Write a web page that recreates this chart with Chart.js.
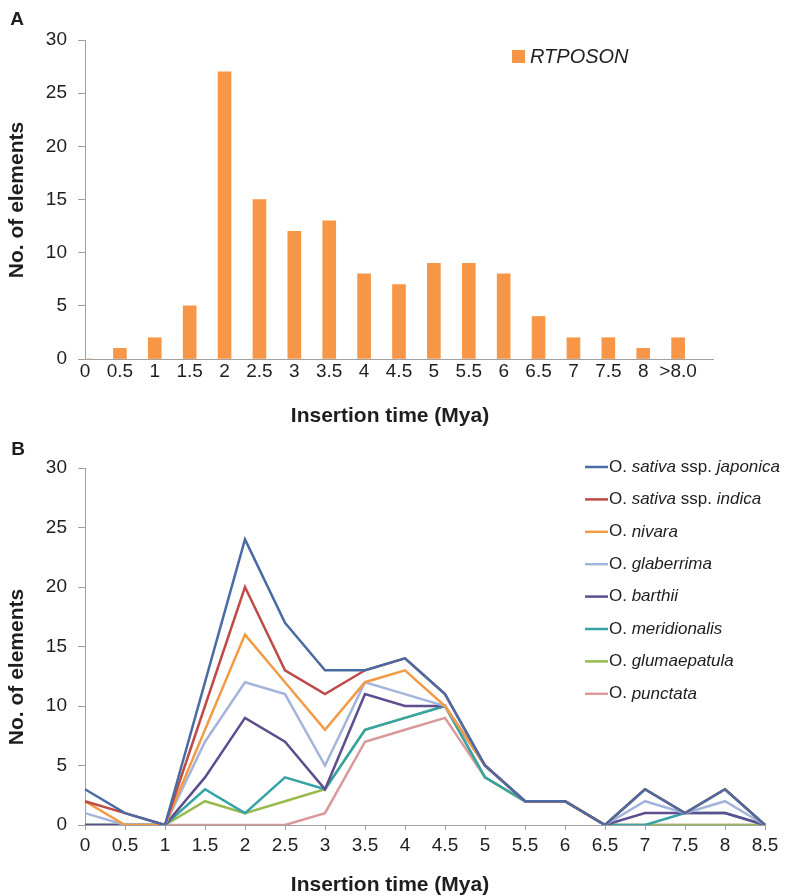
<!DOCTYPE html>
<html>
<head>
<meta charset="utf-8">
<title>RTPOSON insertion time</title>
<script src="https://cdn.jsdelivr.net/npm/chart.js@4.4.0/dist/chart.umd.min.js"></script>
<style>
  body { margin: 0; background: #fff; }
  #wrap { position: relative; width: 787px; height: 896px; }
  canvas { position: absolute; left: 0; }
  #chartA { top: 0; }
  #chartB { top: 432px; }
</style>
</head>
<body>
<div id="wrap">
  <canvas id="chartA" width="787" height="432"></canvas>
  <canvas id="chartB" width="787" height="464"></canvas>
</div>
<script>
// panel A: histogram of insertion times
const binLabels = ['0', '0.5', '1', '1.5', '2', '2.5', '3', '3.5', '4', '4.5', '5', '5.5', '6', '6.5', '7', '7.5', '8', '>8.0'];
const rtposonCounts = [0, 1, 2, 5, 27, 15, 12, 13, 8, 7, 9, 9, 8, 4, 2, 2, 1, 2];

// panel B: per species
const timeLabels = ['0', '0.5', '1', '1.5', '2', '2.5', '3', '3.5', '4', '4.5', '5', '5.5', '6', '6.5', '7', '7.5', '8', '8.5'];
const speciesNames = ['O. sativa ssp. japonica', 'O. sativa ssp. indica', 'O. nivara', 'O. glaberrima',
  'O. barthii', 'O. meridionalis', 'O. glumaepatula', 'O. punctata'];
const japonica     = [3, 1, 0, 12, 24, 17, 13, 13, 14, 11, 5, 2, 2, 0, 3, 1, 3, 0];
const indica       = [2, 1, 0, 10, 20, 13, 11, 13, 14, 11, 5, 2, 2, 0, 3, 1, 3, 0];
const nivara       = [2, 0, 0, 8, 16, 12, 8, 12, 13, 10, 5, 2, 2, 0, 3, 1, 3, 0];
const glaberrima   = [1, 0, 0, 7, 12, 11, 5, 12, 11, 10, 5, 2, 2, 0, 2, 1, 2, 0];
const barthii      = [0, 0, 0, 4, 9, 7, 3, 11, 10, 10, 5, 2, 2, 0, 1, 1, 1, 0];
const meridionalis = [0, 0, 0, 3, 1, 4, 3, 8, 9, 10, 4, 2, 2, 0, 0, 1, 1, 0];
const glumaepatula = [0, 0, 0, 2, 1, 2, 3, 8, 9, 10, 4, 2, 2, 0, 0, 0, 0, 0];
const punctata     = [0, 0, 0, 0, 0, 0, 1, 7, 8, 9, 4, 2, 2, 0, 0, 0, 0, 0];
const speciesData = [japonica, indica, nivara, glaberrima, barthii, meridionalis, glumaepatula, punctata];
const speciesColors = ['#4a6ca4', '#be4b48', '#f39a44', '#a3b5da', '#5e4e8e', '#36a3a6', '#98ba4f', '#d9999a'];

const FAMILY = '"Liberation Sans", Arial, sans-serif';
const AXIS_GRAY = '#a0a0a0';
const TEXT = '#1e1e1e';

// free text (panel letters, axis titles)
function textPlugin(items) {
    return {
        id: 'panelText',
        afterDraw(chart) {
            const ctx = chart.ctx;
            items.forEach(t => {
                ctx.save();
                ctx.font = t.font;
                ctx.fillStyle = TEXT;
                ctx.textAlign = 'center';
                ctx.textBaseline = 'middle';
                ctx.translate(t.x, t.y);
                if (t.rotate) ctx.rotate(t.rotate);
                ctx.fillText(t.text, 0, 0);
                ctx.restore();
            });
        }
    };
}

function yAxis() {
    return {
        min: 0,
        max: 30,
        ticks: { stepSize: 5, padding: 11, color: TEXT, font: { size: 19, family: FAMILY } },
        grid: { drawOnChartArea: false, tickLength: 7, color: AXIS_GRAY },
        border: { color: AXIS_GRAY },
        afterFit: s => { s.width = 85; }
    };
}

// ---- panel A ----
new Chart(document.getElementById('chartA').getContext('2d'), {
    type: 'bar',
    data: {
        datasets: [{
            label: 'RTPOSON',
            data: rtposonCounts.map((v, i) => ({ x: i * 0.5, y: v })),
            backgroundColor: '#f79646',
            barThickness: 13
        }]
    },
    options: {
        responsive: false,
        animation: false,
        devicePixelRatio: 1,
        layout: { padding: { top: 40, right: 74, left: 0, bottom: 0 } },
        plugins: { legend: { display: false }, tooltip: { enabled: false } },
        scales: {
            x: {
                type: 'linear',
                offset: false,
                min: 0,
                max: 9,
                ticks: {
                    stepSize: 0.5,
                    autoSkip: false,
                    maxRotation: 0,
                    padding: 1,
                    color: TEXT,
                    font: { size: 19, family: FAMILY },
                    callback: v => binLabels[Math.round(v * 2)] ?? ''
                },
                grid: { drawOnChartArea: false, drawTicks: false, color: AXIS_GRAY },
                border: { color: AXIS_GRAY },
                afterFit: s => { s.height = 73; }
            },
            y: yAxis()
        }
    },
    plugins: [
        textPlugin([
            { text: 'A', x: 17, y: 20, font: 'bold 19px ' + FAMILY },
            { text: 'No. of elements', x: 17, y: 200, rotate: -Math.PI / 2, font: 'bold 21px ' + FAMILY },
            { text: 'Insertion time (Mya)', x: 390, y: 416, font: 'bold 21px ' + FAMILY }
        ]),
        {
            id: 'legendA',
            afterDraw(chart) {
                const ctx = chart.ctx;
                const ds = chart.data.datasets[0];
                ctx.save();
                ctx.fillStyle = ds.backgroundColor;
                ctx.fillRect(512, 50, 13, 13);
                ctx.font = 'italic 20px ' + FAMILY;
                ctx.fillStyle = TEXT;
                ctx.textBaseline = 'middle';
                ctx.fillText(ds.label, 530, 57);
                ctx.restore();
            }
        }
    ]
});

// ---- panel B ----
function drawSpeciesName(ctx, name, x, y) {
    let cx = x;
    name.split(' ').forEach((w, i) => {
        const upright = (w === 'O.' || w === 'ssp.');
        ctx.font = (upright ? '' : 'italic ') + '17px ' + FAMILY;
        if (i > 0) cx += ctx.measureText(' ').width;
        ctx.fillText(w, cx, y);
        cx += ctx.measureText(w).width;
    });
}

new Chart(document.getElementById('chartB').getContext('2d'), {
    type: 'line',
    data: {
        labels: timeLabels,
        datasets: speciesNames.map((name, i) => ({
            label: name,
            data: speciesData[i],
            borderColor: speciesColors[i],
            backgroundColor: speciesColors[i],
            borderWidth: 2.5,
            pointRadius: 0,
            tension: 0,
            fill: false
        }))
    },
    options: {
        responsive: false,
        animation: false,
        devicePixelRatio: 1,
        layout: { padding: { top: 36, right: 22, left: 0, bottom: 0 } },
        plugins: { legend: { display: false }, tooltip: { enabled: false } },
        scales: {
            x: {
                offset: false,
                ticks: { autoSkip: false, maxRotation: 0, padding: 4, color: TEXT, font: { size: 19, family: FAMILY } },
                grid: { drawOnChartArea: false, tickLength: 5, color: AXIS_GRAY },
                border: { color: AXIS_GRAY },
                afterFit: s => { s.height = 71; }
            },
            y: yAxis()
        }
    },
    plugins: [
        textPlugin([
            { text: 'B', x: 18, y: 18, font: 'bold 19px ' + FAMILY },
            { text: 'No. of elements', x: 17, y: 235, rotate: -Math.PI / 2, font: 'bold 21px ' + FAMILY },
            { text: 'Insertion time (Mya)', x: 390, y: 453, font: 'bold 21px ' + FAMILY }
        ]),
        {
            id: 'legendB',
            afterDraw(chart) {
                const ctx = chart.ctx;
                ctx.save();
                ctx.textBaseline = 'middle';
                chart.data.datasets.forEach((ds, i) => {
                    const y = 35 + i * 32.4;
                    ctx.strokeStyle = ds.borderColor;
                    ctx.lineWidth = 2.5;
                    ctx.beginPath();
                    ctx.moveTo(585, y);
                    ctx.lineTo(608, y);
                    ctx.stroke();
                    ctx.fillStyle = TEXT;
                    drawSpeciesName(ctx, ds.label, 609, y);
                });
                ctx.restore();
            }
        }
    ]
});
</script>
</body>
</html>
